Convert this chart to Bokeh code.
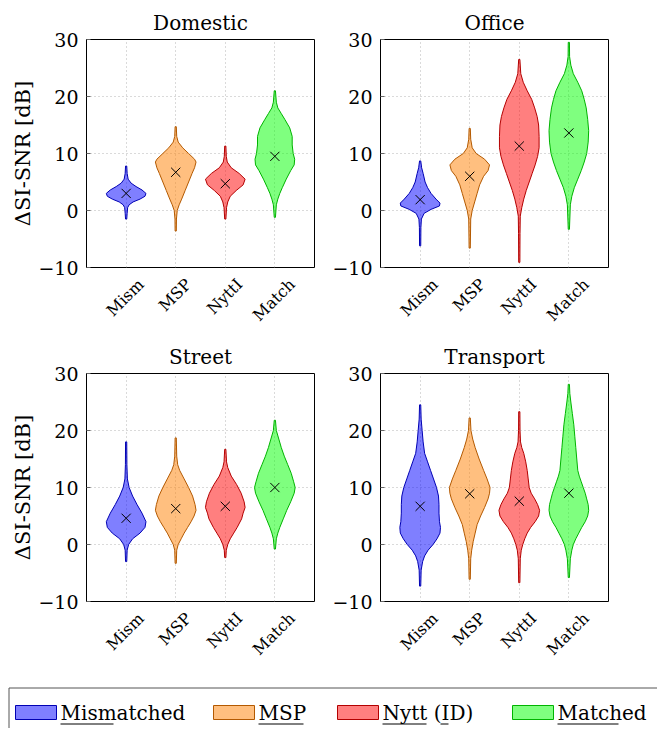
import numpy as np
from bokeh.plotting import figure
from bokeh.layouts import column, row
from bokeh.models import FixedTicker, Range1d
from bokeh.core.properties import value
from bokeh.embed import file_html
from bokeh.resources import INLINE

# ---------------- data ----------------
categories = ["Mism", "MSP", "NyttI", "Match"]
panel_titles = ["Domestic", "Office", "Street", "Transport"]
series_names = ["Mismatched", "MSP", "Nytt (ID)", "Matched"]
y_ticks = [-10, 0, 10, 20, 30]
y_tick_labels = ["\u221210", "0", "10", "20", "30"]

domestic_means = [3.0, 6.7, 4.7, 9.5]
office_means = [1.9, 6.0, 11.3, 13.6]
street_means = [4.6, 6.3, 6.7, 10.0]
transport_means = [6.7, 8.9, 7.6, 9.0]

# violin profiles: value (dB) and half-width (category units)
domestic_mism_y = [7.8, 6.5, 5.5, 4.8, 4.2, 3.6, 3.0, 2.5, 2.0, 1.5, 1.0, 0.5, -0.5, -1.5]
domestic_mism_w = [0.0, 0.02, 0.04, 0.10, 0.20, 0.32, 0.40, 0.38, 0.28, 0.14, 0.06, 0.03, 0.02, 0.0]
domestic_msp_y = [14.7, 13.0, 12.0, 11.0, 10.0, 9.0, 8.5, 7.5, 6.5, 5.0, 3.5, 2.0, 1.0, 0.0, -1.5, -3.6]
domestic_msp_w = [0.0, 0.02, 0.05, 0.14, 0.26, 0.38, 0.41, 0.38, 0.33, 0.26, 0.19, 0.12, 0.07, 0.03, 0.015, 0.0]
domestic_nytt_y = [11.3, 9.5, 8.5, 7.5, 6.5, 5.5, 4.5, 3.5, 2.5, 1.5, 0.5, -1.5]
domestic_nytt_w = [0.0, 0.02, 0.04, 0.12, 0.28, 0.40, 0.36, 0.22, 0.10, 0.05, 0.025, 0.0]
domestic_match_y = [21.0, 19.0, 18.0, 17.0, 16.0, 14.5, 13.0, 11.5, 10.0, 9.0, 8.0, 7.0, 5.5, 4.0, 3.0, 2.0, 1.0, -1.2]
domestic_match_w = [0.0, 0.03, 0.06, 0.13, 0.20, 0.30, 0.35, 0.35, 0.37, 0.40, 0.39, 0.32, 0.23, 0.15, 0.10, 0.06, 0.03, 0.0]

office_mism_y = [8.7, 7.5, 6.5, 5.0, 4.0, 3.0, 2.0, 1.3, 0.8, 0.2, -0.5, -1.5, -3.0, -6.2]
office_mism_w = [0.0, 0.03, 0.06, 0.10, 0.15, 0.22, 0.32, 0.40, 0.39, 0.22, 0.08, 0.025, 0.015, 0.0]
office_msp_y = [14.4, 12.5, 11.0, 10.0, 9.0, 8.0, 7.0, 6.0, 4.5, 3.0, 1.5, 0.0, -1.5, -6.6]
office_msp_w = [0.0, 0.02, 0.05, 0.13, 0.30, 0.40, 0.37, 0.28, 0.20, 0.15, 0.10, 0.05, 0.02, 0.0]
office_nytt_y = [26.5, 24.0, 22.5, 21.0, 19.5, 18.0, 16.5, 15.0, 13.0, 11.0, 9.5, 8.0, 6.5, 5.0, 3.5, 2.0, 0.5, -1.0, -4.0, -9.1]
office_nytt_w = [0.0, 0.03, 0.08, 0.16, 0.25, 0.31, 0.36, 0.39, 0.40, 0.40, 0.37, 0.32, 0.26, 0.20, 0.14, 0.09, 0.05, 0.02, 0.015, 0.0]
office_match_y = [29.5, 27.0, 25.5, 24.0, 22.5, 21.0, 19.5, 18.0, 16.0, 14.0, 12.0, 10.0, 8.5, 7.0, 5.5, 4.0, 2.5, 1.0, -3.3]
office_match_w = [0.0, 0.015, 0.04, 0.09, 0.18, 0.26, 0.31, 0.35, 0.38, 0.40, 0.39, 0.36, 0.31, 0.25, 0.18, 0.11, 0.06, 0.03, 0.0]

street_mism_y = [18.0, 14.0, 11.5, 10.0, 8.5, 7.0, 5.5, 4.0, 3.0, 2.0, 1.0, 0.0, -1.0, -3.0]
street_mism_w = [0.0, 0.015, 0.025, 0.06, 0.13, 0.22, 0.32, 0.40, 0.38, 0.28, 0.13, 0.05, 0.02, 0.0]
street_msp_y = [18.7, 15.5, 14.0, 13.0, 11.5, 10.0, 8.5, 7.0, 6.0, 5.0, 4.0, 3.0, 2.0, 1.0, 0.0, -1.0, -3.3]
street_msp_w = [0.0, 0.02, 0.04, 0.08, 0.17, 0.26, 0.34, 0.39, 0.41, 0.37, 0.31, 0.24, 0.17, 0.11, 0.05, 0.02, 0.0]
street_nytt_y = [16.7, 14.5, 13.5, 12.0, 10.5, 9.0, 7.5, 6.5, 5.5, 4.5, 3.0, 2.0, 1.0, 0.0, -1.0, -2.3]
street_nytt_w = [0.0, 0.025, 0.05, 0.12, 0.23, 0.32, 0.38, 0.40, 0.36, 0.33, 0.24, 0.17, 0.10, 0.05, 0.02, 0.0]
street_match_y = [21.8, 20.0, 18.5, 17.0, 15.5, 14.0, 12.5, 11.0, 10.0, 9.0, 7.5, 6.0, 4.5, 3.0, 2.0, 1.0, -0.8]
street_match_w = [0.0, 0.03, 0.08, 0.13, 0.19, 0.26, 0.33, 0.38, 0.41, 0.39, 0.32, 0.24, 0.17, 0.10, 0.06, 0.03, 0.0]

transport_mism_y = [24.5, 22.0, 20.0, 18.0, 16.0, 14.5, 13.0, 11.5, 10.0, 8.5, 7.0, 5.5, 4.0, 3.0, 2.0, 1.0, 0.0, -1.0, -2.0, -3.0, -4.5, -7.3]
transport_mism_w = [0.0, 0.02, 0.04, 0.06, 0.09, 0.15, 0.21, 0.27, 0.33, 0.37, 0.38, 0.38, 0.39, 0.41, 0.40, 0.34, 0.26, 0.16, 0.09, 0.05, 0.02, 0.0]
transport_msp_y = [22.2, 20.0, 18.5, 17.0, 15.0, 13.0, 11.5, 10.0, 9.0, 8.0, 6.5, 5.0, 3.5, 2.0, 0.5, -1.0, -2.5, -6.1]
transport_msp_w = [0.0, 0.025, 0.06, 0.11, 0.19, 0.28, 0.35, 0.41, 0.40, 0.37, 0.30, 0.22, 0.15, 0.11, 0.07, 0.04, 0.02, 0.0]
transport_nytt_y = [23.3, 20.0, 18.0, 17.0, 16.0, 14.5, 13.0, 11.5, 10.0, 9.0, 8.0, 7.0, 6.0, 5.0, 4.0, 3.0, 2.0, 1.0, 0.0, -1.0, -2.5, -6.7]
transport_nytt_w = [0.0, 0.015, 0.025, 0.05, 0.09, 0.13, 0.16, 0.18, 0.20, 0.24, 0.31, 0.37, 0.41, 0.39, 0.32, 0.23, 0.16, 0.11, 0.07, 0.04, 0.02, 0.0]
transport_match_y = [28.1, 26.5, 25.0, 23.0, 21.0, 19.0, 17.0, 15.0, 13.0, 12.0, 11.0, 10.0, 9.0, 8.0, 7.0, 6.0, 5.0, 4.0, 3.0, 2.0, 1.0, 0.0, -1.0, -2.5, -5.8]
transport_match_w = [0.0, 0.02, 0.04, 0.07, 0.10, 0.12, 0.14, 0.16, 0.18, 0.21, 0.25, 0.29, 0.33, 0.36, 0.39, 0.40, 0.38, 0.33, 0.26, 0.20, 0.14, 0.09, 0.06, 0.03, 0.0]

# ---------------- styling ----------------
FONT = "DejaVu Serif"
FILL = ["#0000ff", "#ff8000", "#ff0000", "#00ff00"]
LINE = ["#0000b3", "#b35900", "#b30000", "#00b300"]
MIN_W = 0.012
# rotated tick labels are right-aligned by Bokeh; shift anchors so text is centred on category
LABEL_SHIFT = [0.30, 0.26, 0.29, 0.35]

panel_profiles = [
    [(domestic_mism_y, domestic_mism_w), (domestic_msp_y, domestic_msp_w),
     (domestic_nytt_y, domestic_nytt_w), (domestic_match_y, domestic_match_w)],
    [(office_mism_y, office_mism_w), (office_msp_y, office_msp_w),
     (office_nytt_y, office_nytt_w), (office_match_y, office_match_w)],
    [(street_mism_y, street_mism_w), (street_msp_y, street_msp_w),
     (street_nytt_y, street_nytt_w), (street_match_y, street_match_w)],
    [(transport_mism_y, transport_mism_w), (transport_msp_y, transport_msp_w),
     (transport_nytt_y, transport_nytt_w), (transport_match_y, transport_match_w)],
]
panel_means = [domestic_means, office_means, street_means, transport_means]
cat_pos = [1, 2, 3, 4]


def make_panel(idx, left, right, top, bottom, ylabel):
    p = figure(frame_width=228, frame_height=228,
               x_range=Range1d(0.2, 4.8), y_range=Range1d(-10, 30),
               output_backend="svg", toolbar_location=None,
               min_border_left=left, min_border_right=right,
               min_border_top=top, min_border_bottom=bottom,
               title=panel_titles[idx])
    p.title.text_font = FONT
    p.title.text_font_size = "20px"
    p.title.text_font_style = "normal"
    p.title.text_color = "black"
    p.title.align = "center"
    p.title.standoff = 10
    p.outline_line_color = "black"
    p.outline_line_width = 1

    p.xgrid.ticker = FixedTicker(ticks=cat_pos)
    p.ygrid.ticker = FixedTicker(ticks=y_ticks)
    for g in (p.xgrid, p.ygrid):
        g.grid_line_color = "#b4b4b4"
        g.grid_line_dash = "1 3"
        g.grid_line_width = 1

    xa = p.xaxis[0]
    xt = [c + s for c, s in zip(cat_pos, LABEL_SHIFT)]
    xa.ticker = FixedTicker(ticks=xt)
    xa.major_label_overrides = {t: l for t, l in zip(xt, categories)}
    xa.major_label_orientation = np.pi / 4
    xa.major_label_text_font = FONT
    xa.major_label_text_font_size = "16px"
    xa.major_label_text_color = "black"
    xa.major_label_standoff = 14
    xa.major_tick_in = 0
    xa.major_tick_out = 0
    xa.minor_tick_in = 0
    xa.minor_tick_out = 0
    xa.axis_line_color = None

    ax = p.yaxis[0]
    ax.ticker = FixedTicker(ticks=y_ticks)
    ax.major_label_overrides = {t: l for t, l in zip(y_ticks, y_tick_labels)}
    ax.major_label_text_font = FONT
    ax.major_label_text_font_size = "19px"
    ax.major_label_text_color = "black"
    ax.major_label_standoff = 8
    ax.major_tick_in = 4
    ax.major_tick_out = 0
    ax.minor_tick_in = 0
    ax.minor_tick_out = 0
    ax.major_tick_line_color = "#666666"
    ax.axis_line_color = "black"
    if ylabel:
        ax.axis_label = "\u0394SI-SNR [dB]"
        ax.axis_label_text_font = FONT
        ax.axis_label_text_font_size = "21px"
        ax.axis_label_text_font_style = "normal"
        ax.axis_label_text_color = "black"
        ax.axis_label_standoff = 0

    for i, (ys, ws) in enumerate(panel_profiles[idx]):
        c = cat_pos[i]
        w = [max(v, MIN_W) for v in ws]
        xs = [c + v for v in w] + [c - v for v in w[::-1]]
        yy = list(ys) + list(ys[::-1])
        p.patch(xs, yy, fill_color=FILL[i], fill_alpha=0.5,
                line_color=LINE[i], line_width=1)

    p.scatter(cat_pos, panel_means[idx], marker="x", size=13,
              line_color="black", line_width=1)
    return p


p1 = make_panel(0, 86, 10, 39, 70, True)
p2 = make_panel(1, 56, 20, 39, 70, False)
p3 = make_panel(2, 86, 10, 36, 70, True)
p4 = make_panel(3, 56, 20, 36, 70, False)

# ---------------- legend ----------------
LEG_H = 57
leg = figure(frame_width=657, frame_height=LEG_H,
             x_range=Range1d(0, 657), y_range=Range1d(0, LEG_H),
             x_axis_type=None, y_axis_type=None,
             toolbar_location=None, output_backend="svg",
             min_border=0, outline_line_color=None)
# strip coordinates: pixels, y measured up from the strip's bottom edge
leg.segment(x0=[8.5, 8.5], y0=[-5, 40.5], x1=[8.5, 700], y1=[40.5, 40.5],
            line_color="#555555", line_width=1)
sw_left = [15, 213, 337, 512]
txt_x = [60, 258, 382, 557]
leg.quad(left=sw_left, right=[v + 41 for v in sw_left], bottom=9, top=23,
         fill_color=FILL, fill_alpha=0.5, line_color=LINE, line_width=1)
leg.text(x=txt_x, y=[16] * 4, text=series_names,
         text_font=value(FONT), text_font_size=value("20px"),
         text_baseline="middle", text_align="left", text_color="black")
ul_x0 = [60, 258, 382, 440, 557]
ul_x1 = [113, 303, 426, 448, 618]
leg.segment(x0=ul_x0, x1=ul_x1, y0=[4.5] * 5, y1=[4.5] * 5,
            line_color="black", line_width=1)

layout = column(row(p1, p2), row(p3, p4), leg)
open("out.html", "w").write(file_html(layout, INLINE))
